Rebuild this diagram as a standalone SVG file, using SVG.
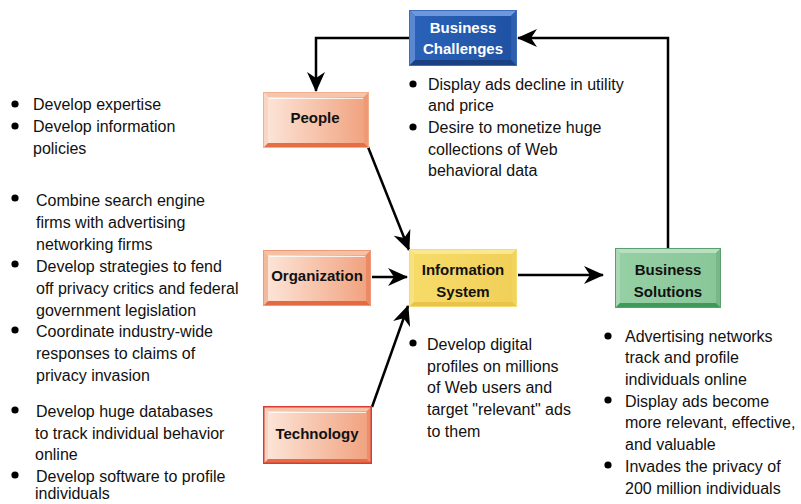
<svg xmlns="http://www.w3.org/2000/svg" width="801" height="504" viewBox="0 0 801 504">
  <defs>
    <style>
      .lbl { font-family: "Liberation Sans", Arial, sans-serif; font-size: 15px; font-weight: bold; text-anchor: middle; fill: #111; }
      .lbl.w { fill: #ffffff; }
      .txt { font-family: "Liberation Sans", Arial, sans-serif; font-size: 16px; fill: #111; }
      .conn { fill: none; stroke: #000; stroke-width: 2.5; }
      .dot { fill: #000; }
    </style>
    <linearGradient id="gOrange" x1="0" y1="0" x2="1" y2="0">
      <stop offset="0" stop-color="#fde7db"/>
      <stop offset="1" stop-color="#f0a07c"/>
    </linearGradient>
    <linearGradient id="gBlue" x1="0" y1="0" x2="1" y2="0">
      <stop offset="0" stop-color="#2a62b8"/>
      <stop offset="1" stop-color="#1f52a3"/>
    </linearGradient>
    <linearGradient id="gYellow" x1="0" y1="0" x2="1" y2="0">
      <stop offset="0" stop-color="#f7dc6a"/>
      <stop offset="1" stop-color="#f0cf58"/>
    </linearGradient>
    <linearGradient id="gGreen" x1="0" y1="0" x2="1" y2="0">
      <stop offset="0" stop-color="#96d0a4"/>
      <stop offset="1" stop-color="#88c698"/>
    </linearGradient>
    <marker id="ah" viewBox="0 0 20 18" refX="19" refY="9" markerWidth="20" markerHeight="18" markerUnits="userSpaceOnUse" orient="auto">
      <path d="M0,0 L20,9 L0,18 L6,9 Z" fill="#000"/>
    </marker>
  </defs>

  <rect width="801" height="504" fill="#ffffff"/>

  <!-- connectors -->
  <g id="connectors">
    <polyline class="conn" points="409,38 316,38 316,91" marker-end="url(#ah)"/>
    <polyline class="conn" points="668,248 668,38 518,38" marker-end="url(#ah)"/>
    <line class="conn" x1="368" y1="147" x2="409" y2="250" marker-end="url(#ah)"/>
    <line class="conn" x1="372" y1="407" x2="408" y2="306" marker-end="url(#ah)"/>
    <line class="conn" x1="372" y1="277" x2="407" y2="277" marker-end="url(#ah)"/>
    <line class="conn" x1="518" y1="275" x2="603" y2="275" marker-end="url(#ah)"/>
  </g>

  <!-- Business Challenges -->
  <g id="business-challenges" transform="translate(409,10)">
    <rect x="0" y="0" width="108" height="56" fill="#2a5aa8"/>
    <polygon points="0,0 108,0 102,6 6,6" fill="#6f98dc"/>
    <polygon points="0,0 6,6 6,50 0,56" fill="#5a88d2"/>
    <polygon points="108,0 108,56 102,50 102,6" fill="#2d5fae"/>
    <polygon points="0,56 6,50 102,50 108,56" fill="#1a3f82"/>
    <rect x="6" y="6" width="96" height="44" fill="url(#gBlue)"/>
    <rect x="0.5" y="0.5" width="107" height="55" fill="none" stroke="#3d6cbc" stroke-width="1"/>
    <text class="lbl w" x="54" y="23">Business</text>
    <text class="lbl w" x="54" y="44">Challenges</text>
  </g>

  <!-- People -->
  <g id="people" transform="translate(263,92)">
    <rect x="0" y="0" width="106" height="56" fill="url(#gOrange)"/>
    <polygon points="0,0 106,0 101,5 5,5" fill="#f6c6ac"/>
    <polygon points="0,0 5,5 5,51 0,56" fill="#f8d6c4"/>
    <polygon points="106,0 106,56 101,51 101,5" fill="#ee9a74"/>
    <polygon points="0,56 5,51 101,51 106,56" fill="#e56e45"/>
    <line x1="6" y1="6.5" x2="100" y2="6.5" stroke="#ffffff" stroke-width="1" opacity="0.8"/>
    <rect x="0.5" y="0.5" width="105" height="55" fill="none" stroke="#f2b08e" stroke-width="1"/>
    <text class="lbl" x="52" y="31">People</text>
  </g>

  <!-- Organization -->
  <g id="organization" transform="translate(263,250)">
    <rect x="0" y="0" width="108" height="56" fill="url(#gOrange)"/>
    <polygon points="0,0 108,0 103,5 5,5" fill="#f6c0a4"/>
    <polygon points="0,0 5,5 5,51 0,56" fill="#f4b89a"/>
    <polygon points="108,0 108,56 103,51 103,5" fill="#ec8a66"/>
    <polygon points="0,56 5,51 103,51 108,56" fill="#e56a42"/>
    <line x1="6" y1="6.5" x2="102" y2="6.5" stroke="#ffffff" stroke-width="1" opacity="0.8"/>
    <rect x="0.5" y="0.5" width="107" height="55" fill="none" stroke="#ee9a78" stroke-width="1"/>
    <text class="lbl" x="54" y="31">Organization</text>
  </g>

  <!-- Technology -->
  <g id="technology" transform="translate(263,406)">
    <rect x="0" y="0" width="109" height="58" fill="url(#gOrange)"/>
    <polygon points="0,0 109,0 104,5 5,5" fill="#f6c4a8"/>
    <polygon points="0,0 5,5 5,53 0,58" fill="#f8d2c0"/>
    <polygon points="109,0 109,58 104,53 104,5" fill="#ec8e6a"/>
    <polygon points="0,58 5,53 104,53 109,58" fill="#e56c45"/>
    <line x1="6" y1="6.5" x2="103" y2="6.5" stroke="#ffffff" stroke-width="1" opacity="0.8"/>
    <rect x="0.75" y="0.75" width="107.5" height="56.5" fill="none" stroke="#d93a34" stroke-width="1.5"/>
    <text class="lbl" x="54" y="33">Technology</text>
  </g>

  <!-- Information System -->
  <g id="information-system" transform="translate(409,249)">
    <rect x="0" y="0" width="108" height="58" fill="url(#gYellow)"/>
    <polygon points="0,0 108,0 103,5 5,5" fill="#f9e88e"/>
    <polygon points="0,0 5,5 5,53 0,58" fill="#f8e27e"/>
    <polygon points="108,0 108,58 103,53 103,5" fill="#f2d35e"/>
    <polygon points="0,58 5,53 103,53 108,58" fill="#eac44a"/>
    <rect x="0.5" y="0.5" width="107" height="57" fill="none" stroke="#f3dc70" stroke-width="1"/>
    <text class="lbl" x="54" y="26">Information</text>
    <text class="lbl" x="54" y="48">System</text>
  </g>

  <!-- Business Solutions -->
  <g id="business-solutions" transform="translate(615,248)">
    <rect x="0" y="0" width="106" height="60" fill="url(#gGreen)"/>
    <polygon points="0,0 106,0 101,5 5,5" fill="#b8e0c0"/>
    <polygon points="0,0 5,5 5,55 0,60" fill="#a8d8b4"/>
    <polygon points="106,0 106,60 101,55 101,5" fill="#78b888"/>
    <polygon points="0,60 5,55 101,55 106,60" fill="#3f9a5a"/>
    <rect x="0.5" y="0.5" width="105" height="59" fill="none" stroke="#5aa06e" stroke-width="1"/>
    <text class="lbl" x="53" y="27">Business</text>
    <text class="lbl" x="53" y="49">Solutions</text>
  </g>

  <!-- People notes -->
  <g id="people-notes">
    <circle class="dot" cx="15" cy="104" r="3.6"/>
    <circle class="dot" cx="15" cy="126" r="3.6"/>
    <text class="txt" x="33" y="110">Develop expertise</text>
    <text class="txt" x="33" y="132">Develop information</text>
    <text class="txt" x="33" y="154">policies</text>
  </g>

  <!-- Organization notes -->
  <g id="organization-notes">
    <circle class="dot" cx="15" cy="198" r="3.6"/>
    <circle class="dot" cx="15" cy="264" r="3.6"/>
    <circle class="dot" cx="15" cy="330" r="3.6"/>
    <text class="txt" x="36" y="206">Combine search engine</text>
    <text class="txt" x="36" y="228">firms with advertising</text>
    <text class="txt" x="36" y="250">networking firms</text>
    <text class="txt" x="36" y="272">Develop strategies to fend</text>
    <text class="txt" x="36" y="294">off privacy critics and federal</text>
    <text class="txt" x="36" y="316">government legislation</text>
    <text class="txt" x="36" y="337">Coordinate industry-wide</text>
    <text class="txt" x="36" y="359">responses to claims of</text>
    <text class="txt" x="36" y="381">privacy invasion</text>
  </g>

  <!-- Technology notes -->
  <g id="technology-notes">
    <circle class="dot" cx="15" cy="410" r="3.6"/>
    <circle class="dot" cx="15" cy="475" r="3.6"/>
    <text class="txt" x="36" y="417">Develop huge databases</text>
    <text class="txt" x="35" y="439">to track individual behavior</text>
    <text class="txt" x="35" y="460">online</text>
    <text class="txt" x="36" y="482">Develop software to profile</text>
    <text class="txt" x="35" y="499">individuals</text>
  </g>

  <!-- Business Challenges notes -->
  <g id="challenges-notes">
    <circle class="dot" cx="413" cy="84" r="3.6"/>
    <circle class="dot" cx="413" cy="127" r="3.6"/>
    <text class="txt" x="428" y="90">Display ads decline in utility</text>
    <text class="txt" x="428" y="111">and price</text>
    <text class="txt" x="428" y="133">Desire to monetize huge</text>
    <text class="txt" x="428" y="155">collections of Web</text>
    <text class="txt" x="428" y="176">behavioral data</text>
  </g>

  <!-- Information System notes -->
  <g id="system-notes">
    <circle class="dot" cx="413" cy="343" r="3.6"/>
    <text class="txt" x="427" y="350">Develop digital</text>
    <text class="txt" x="427" y="372">profiles on millions</text>
    <text class="txt" x="427" y="393">of Web users and</text>
    <text class="txt" x="427" y="415">target "relevant" ads</text>
    <text class="txt" x="427" y="437">to them</text>
  </g>

  <!-- Business Solutions notes -->
  <g id="solutions-notes">
    <circle class="dot" cx="608" cy="336" r="3.6"/>
    <circle class="dot" cx="608" cy="400" r="3.6"/>
    <circle class="dot" cx="608" cy="465" r="3.6"/>
    <text class="txt" x="625" y="342">Advertising networks</text>
    <text class="txt" x="625" y="363">track and profile</text>
    <text class="txt" x="625" y="385">individuals online</text>
    <text class="txt" x="625" y="407">Display ads become</text>
    <text class="txt" x="625" y="428">more relevant, effective,</text>
    <text class="txt" x="625" y="450">and valuable</text>
    <text class="txt" x="625" y="472">Invades the privacy of</text>
    <text class="txt" x="625" y="494">200 million individuals</text>
  </g>
</svg>
